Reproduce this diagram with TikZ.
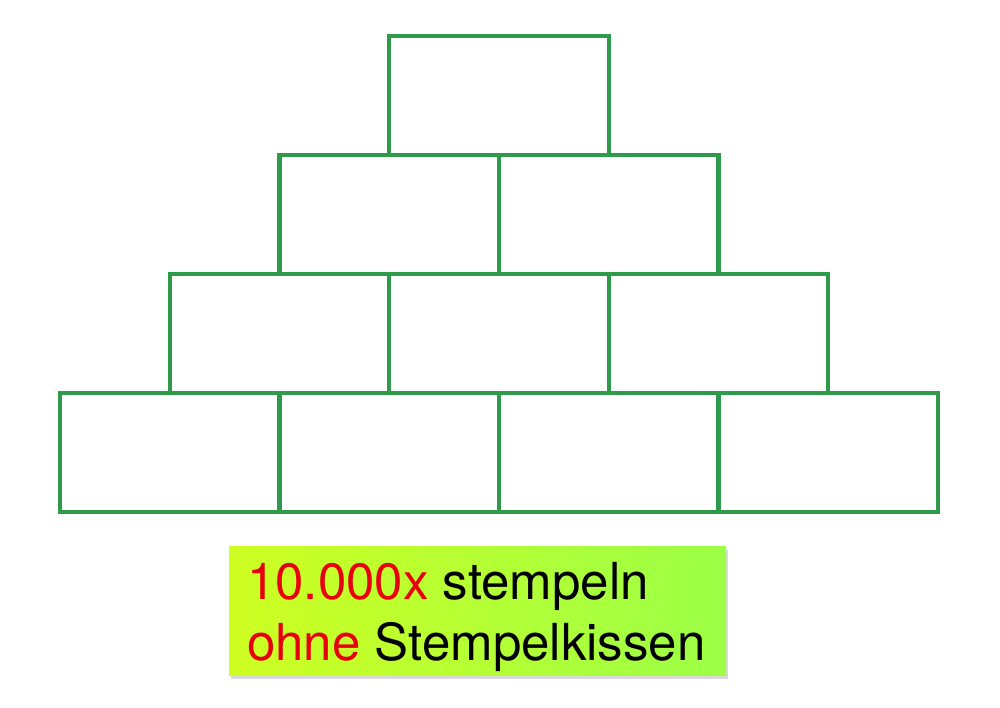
\documentclass[tikz,border=0pt]{standalone}
\usepackage{fontspec}
\setmainfont{TeX Gyre Heros}
\usetikzlibrary{shadows}
\definecolor{brickgreen}{HTML}{2E9A4A}
\definecolor{lblleft}{HTML}{CEFF22}
\definecolor{lblright}{HTML}{9CFF46}
\definecolor{txtred}{HTML}{E8000E}
\begin{document}
\begin{tikzpicture}[x=1pt,y=-1pt,
  brick/.style={draw=brickgreen, line width=4.4pt, minimum width=219.5pt, minimum height=119pt, inner sep=0pt, outer sep=0pt},
  labelbox/.style={left color=lblleft, right color=lblright, draw=none, minimum width=497pt, minimum height=129pt, inner sep=0pt,
    drop shadow={shadow xshift=2pt, shadow yshift=-4pt, opacity=0.15, fill=black}},
  lbltext/.style={font=\fontsize{51}{61}\selectfont, inner sep=0pt, anchor=base west}]
\useasboundingbox (0,0) rectangle (1000,708);
% bottom row
\node[brick] (b1) at (169.75,452.5) {};
\node[brick] (b2) at (389.25,452.5) {};
\node[brick] (b3) at (608.75,452.5) {};
\node[brick] (b4) at (828.25,452.5) {};
% third row
\node[brick] (c1) at (279.5,333.5) {};
\node[brick] (c2) at (499,333.5) {};
\node[brick] (c3) at (718.5,333.5) {};
% second row
\node[brick] (d1) at (389.25,214.5) {};
\node[brick] (d2) at (608.75,214.5) {};
% top
\node[brick] (e1) at (499,95.5) {};
% label
\node[labelbox, anchor=north west] (lbl) at (229,546) {};
\node[lbltext] (l1) at (247,599) {\textcolor{txtred}{10.000x} stempeln};
\node[lbltext] (l2) at (247,660) {\textcolor{txtred}{ohne} Stempelkissen};
\end{tikzpicture}
\end{document}
